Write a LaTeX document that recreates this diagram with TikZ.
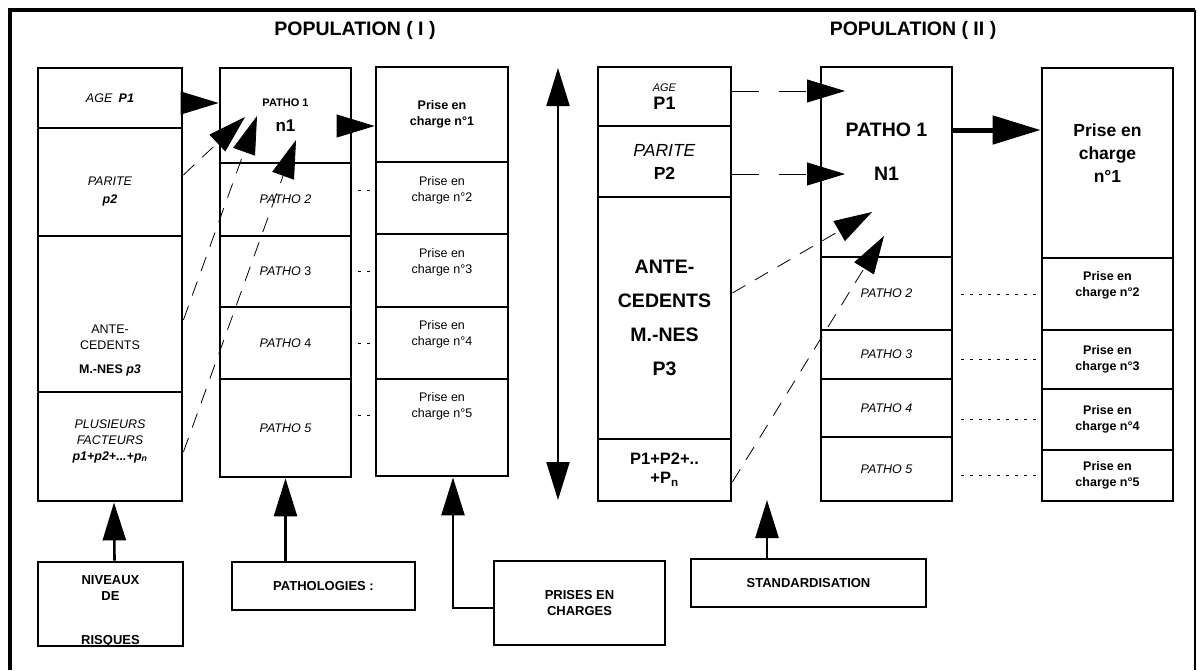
\documentclass[tikz,border=0pt]{standalone}
\usepackage{fontspec}
\setmainfont{Liberation Sans}
\usetikzlibrary{arrows.meta, calc}

\begin{document}
\begin{tikzpicture}[x=1pt, y=-1pt, >={Triangle[length=38pt, width=23pt]},
  cell/.style={draw, line width=2.8pt, inner sep=0pt, align=center,
    font=\fontsize{12.5}{16}\selectfont},
  txt/.style={align=center, font=\fontsize{12.5}{16}\selectfont},
  title/.style={font=\fontsize{19.5}{22}\selectfont\bfseries},
  link/.style={->, dash pattern=on 15pt off 11pt, line width=0.8pt},
  longlink/.style={->, dash pattern=on 27pt off 20pt, line width=0.8pt},
  dotline/.style={dash pattern=on 3pt off 6pt, line width=0.6pt},
  feed/.style={->, line width=2.6pt}]

\useasboundingbox (0,0) rectangle (1197,670);

% frame
\draw[line width=4.5pt] (10,670) -- (10,10) -- (1195,10);
\draw[line width=1.2pt] (1195,10) -- (1195,670);

\node[title] (popI) at (355,30) {POPULATION ( I )};
\node[title] (popII) at (913,30) {POPULATION ( II )};

% --- Population I ---
% niveaux de risques
\node[cell, minimum width=144pt, minimum height=60pt] (ra1) at (110,98)
  {\textit{AGE}\enspace\textbf{\textit{P1}}};
\node[cell, minimum width=144pt, minimum height=108pt] (ra2) at (110,182) {};
\node[cell, minimum width=144pt, minimum height=156pt] (ra3) at (110,314) {};
\node[cell, minimum width=144pt, minimum height=109pt] (ra4) at (110,446.5) {};
\node[txt] (ra2t) at (110,191) {\textit{PARITE}\\[2pt]\textbf{\textit{p2}}};
\node[txt] (ra3t) at (110,350) {ANTE-\\CEDENTS\\[8pt]\textbf{M.-NES \textit{p3}}};
\node[txt] (ra4t) at (110,441)
  {\textit{PLUSIEURS}\\\textit{FACTEURS}\\\textbf{\textit{p1+p2+...+p\textsubscript{n}}}};

% pathologies
\node[cell, minimum width=131pt, minimum height=95pt] (pa1) at (285.5,115.5)
  {\fontsize{11}{13}\selectfont\textbf{PATHO 1}\\[9pt]%
   {\fontsize{17}{20}\selectfont\textbf{n1}}};
\node[cell, minimum width=131pt, minimum height=73pt] (pa2) at (285.5,199.5) {\textit{PATHO 2}};
\node[cell, minimum width=131pt, minimum height=71pt] (pa3) at (285.5,271.5) {\textit{PATHO} 3};
\node[cell, minimum width=131pt, minimum height=72pt] (pa4) at (285.5,343) {\textit{PATHO} 4};
\node[cell, minimum width=131pt, minimum height=98pt] (pa5) at (285.5,428) {\textit{PATHO 5}};

% prises en charge
\node[cell, minimum width=132pt, minimum height=95pt] (ca1) at (442,114.5)
  {\textbf{Prise en}\\\textbf{charge n°1}};
\node[cell, minimum width=132pt, minimum height=72pt] (ca2) at (442,198) {};
\node[cell, minimum width=132pt, minimum height=73pt] (ca3) at (442,270.5) {};
\node[cell, minimum width=132pt, minimum height=72pt] (ca4) at (442,343) {};
\node[cell, minimum width=132pt, minimum height=97pt] (ca5) at (442,427.5) {};
\node[txt] (ca2t) at (442,190) {Prise en\\charge n°2};
\node[txt] (ca3t) at (442,262) {Prise en\\charge n°3};
\node[txt] (ca4t) at (442,334) {Prise en\\charge n°4};
\node[txt] (ca5t) at (442,406) {Prise en\\charge n°5};

% links
\coordinate (tipA) at (245,117);
\coordinate (tipB) at (257,116);
\coordinate (tipC) at (296,140);
\draw[->, line width=0.8pt] ([yshift=-5pt]ra1.east) -- ([yshift=-5pt]ra1.east -| pa1.west);
\draw[->, line width=0.8pt] ([yshift=-10.5pt]pa1.east) -- ([yshift=-10.5pt]pa1.east -| ca1.west);
\draw[link] ([yshift=7pt]ra2.east) -- (tipA);
\draw[link] ([yshift=-6pt]ra3.east) -- (tipB);
\draw[link] ([yshift=-5.5pt]ra4.east) -- (tipC);
\foreach \i/\dy in {2/9.5, 3/0, 4/0, 5/13}
  \draw[dotline, shorten <=6pt, shorten >=3pt]
    ([yshift=\dy pt]pa\i.east) -- ([yshift=\dy pt]pa\i.east -| ca\i.west);

% double arrow
\coordinate (dtop) at (558,68);
\coordinate (dbot) at (558,500);
\draw[<->, line width=2pt] (dtop) -- (dbot);

% --- Population II ---
\node[cell, minimum width=133pt, minimum height=59pt,
  font=\fontsize{18}{18}\selectfont\bfseries] (rb1) at (664.5,96.5)
  {{\fontsize{11}{13}\selectfont\mdseries\textit{AGE}}\\P1};
\node[cell, minimum width=133pt, minimum height=71pt,
  font=\fontsize{17.5}{23}\selectfont] (rb2) at (664.5,161.5)
  {\textit{PARITE}\\\textbf{P2}};
\node[cell, minimum width=133pt, minimum height=242pt,
  font=\fontsize{19.5}{34}\selectfont\bfseries] (rb3) at (664.5,318)
  {ANTE-\\CEDENTS\\M.-NES\\P3};
\node[cell, minimum width=133pt, minimum height=62pt,
  font=\fontsize{16.5}{19}\selectfont\bfseries] (rb4) at (664.5,470)
  {P1+P2+..\\+P\textsubscript{n}};

\node[cell, minimum width=131pt, minimum height=190pt] (pb1) at (886.5,162) {};
\node[cell, minimum width=131pt, minimum height=73pt] (pb2) at (886.5,293.5) {\textit{PATHO 2}};
\node[cell, minimum width=131pt, minimum height=49pt] (pb3) at (886.5,354.5) {\textit{PATHO 3}};
\node[cell, minimum width=131pt, minimum height=58pt] (pb4) at (886.5,408) {\textit{PATHO 4}};
\node[cell, minimum width=131pt, minimum height=64pt] (pb5) at (886.5,469) {\textit{PATHO 5}};
\node[txt, font=\fontsize{19.5}{23}\selectfont\bfseries] (pb1t) at (886.5,152)
  {PATHO 1\\[21pt]N1};

\node[cell, minimum width=131pt, minimum height=190pt] (cb1) at (1107.5,163) {};
\node[cell, minimum width=131pt, minimum height=72pt] (cb2) at (1107.5,294) {};
\node[cell, minimum width=131pt, minimum height=59pt, font=\fontsize{12.5}{16}\selectfont\bfseries]
  (cb3) at (1107.5,359.5) {Prise en\\charge n°3};
\node[cell, minimum width=131pt, minimum height=61pt, font=\fontsize{12.5}{16}\selectfont\bfseries]
  (cb4) at (1107.5,419.5) {Prise en\\charge n°4};
\node[cell, minimum width=131pt, minimum height=51pt, font=\fontsize{12.5}{16}\selectfont\bfseries]
  (cb5) at (1107.5,475.5) {Prise en\\charge n°5};
\node[txt, font=\fontsize{17.5}{23}\selectfont\bfseries] (cb1t) at (1107.5,153)
  {Prise en\\charge\\n°1};
\node[txt, font=\fontsize{12.5}{16}\selectfont\bfseries] (cb2t) at (1107.5,285)
  {Prise en\\charge n°2};

\coordinate (tipD) at (845,91);
\coordinate (tipE) at (845,174);
\coordinate (tipF) at (872,212);
\coordinate (tipG) at (884,236);
\draw[longlink] ([yshift=5.5pt]rb1.east) -- (tipD);
\draw[longlink] ([yshift=-12.5pt]rb2.east) -- (tipE);
\draw[link] ([yshift=25pt]rb3.east) -- (tipF);
\draw[link] ([yshift=-12pt]rb4.east) -- (tipG);
\draw[->, line width=5pt, >={Triangle[length=48pt, width=28pt]}]
  ([yshift=32pt]pb1.east) -- ([yshift=32pt]pb1.east -| cb1.west);
\foreach \i in {2,...,5}
  \draw[dotline, shorten <=8pt, shorten >=4pt] (cb\i.west -| pb\i.east) -- (cb\i.west);

% --- bottom boxes ---
\node[cell, minimum width=145pt, minimum height=84pt] (niv) at (110.5,604) {};
\node[txt, font=\fontsize{13}{16}\selectfont\bfseries] (nivt) at (110.5,611)
  {NIVEAUX\\DE\\[28pt]RISQUES};
\node[cell, minimum width=183pt, minimum height=48pt, font=\fontsize{13}{16}\selectfont\bfseries]
  (pathos) at (323.5,586) {PATHOLOGIES :};
\node[cell, minimum width=171pt, minimum height=84pt, font=\fontsize{13}{16}\selectfont\bfseries]
  (prises) at (579.5,603) {PRISES EN\\CHARGES};
\node[cell, minimum width=235pt, minimum height=48pt, font=\fontsize{13}{16}\selectfont\bfseries]
  (stand) at (808.5,583) {STANDARDISATION};

\coordinate (stdtip) at (767,500);
\draw[feed] ([xshift=4pt]niv.north) -- ([xshift=4pt]ra4.south);
\draw[feed] (pa5.south |- pathos.north) -- (pa5.south);
\draw[feed] ([yshift=-5pt]prises.west) -| ([xshift=11pt]ca5.south);
\draw[feed] (stdtip |- stand.north) -- (stdtip);

\end{tikzpicture}
\end{document}
